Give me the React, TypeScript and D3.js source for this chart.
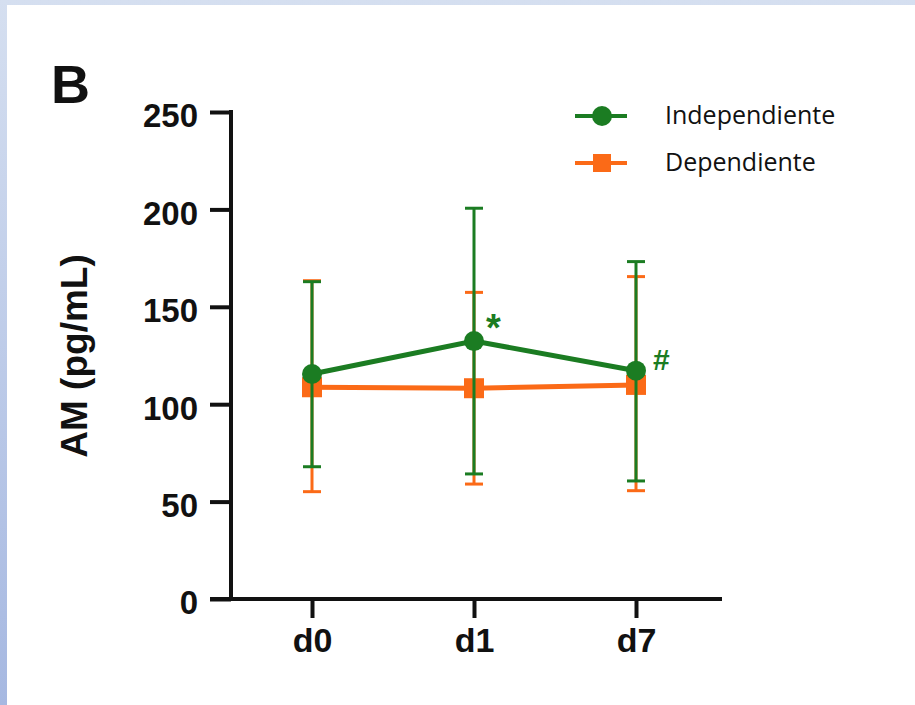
import React, { useEffect, useRef } from "react";
import * as d3 from "d3";

// chart data
const days = ["d0", "d1", "d7"];
const indepMean = [115.5, 132.4, 117.2];
const indepUpper = [162.9, 200.6, 173.2];
const indepLower = [67.9, 64.2, 60.6];
const depMean = [108.7, 108.2, 109.9];
const depUpper = [163.4, 157.4, 165.5];
const depLower = [55.1, 59.0, 55.6];
const yTicks = [0, 50, 100, 150, 200, 250];
const seriesNames = ["Independiente", "Dependiente"];
const marks = ["", "*", "#"];

const GREEN = "#1b7c22";
const ORANGE = "#fb6a17";

export default function App() {
    const ref = useRef<SVGSVGElement>(null);

    useEffect(() => {
        const svg = d3.select(ref.current);
        svg.selectAll("*").remove();

        const W = 915, H = 705;

        // frame background
        const defs = svg.append("defs");
        const grad = defs.append("linearGradient")
            .attr("id", "frame")
            .attr("x1", 0).attr("y1", 0).attr("x2", 0).attr("y2", 1);
        grad.append("stop").attr("offset", "0%").attr("stop-color", "#d5dff0");
        grad.append("stop").attr("offset", "100%").attr("stop-color", "#a6b8e1");
        svg.append("rect").attr("width", W).attr("height", H).attr("fill", "url(#frame)");
        svg.append("rect").attr("x", 7).attr("y", 5).attr("width", W - 7).attr("height", H - 5).attr("fill", "#fff");

        const x = d3.scalePoint<string>()
            .domain(days)
            .range([231, 717])
            .padding(0.5);

        const y = d3.scaleLinear()
            .domain([0, 250])
            .range([599, 112]);

        const boldFont = "'Liberation Sans', Arial, sans-serif";

        // y axis
        const yAxis = svg.append("g")
            .attr("transform", "translate(231,0)")
            .call(d3.axisLeft(y).tickValues(yTicks).tickSize(21).tickSizeOuter(0).tickPadding(12));
        yAxis.select(".domain").remove();
        yAxis.selectAll(".tick line").attr("stroke", "#111").attr("stroke-width", 4);
        yAxis.selectAll(".tick text")
            .attr("font-family", boldFont)
            .attr("font-weight", "bold")
            .attr("font-size", 33)
            .attr("fill", "#111")
            .attr("dy", "0.45em");

        // x axis
        const xAxis = svg.append("g")
            .attr("transform", "translate(0,599)")
            .call(d3.axisBottom(x).tickSize(19).tickSizeOuter(0).tickPadding(10));
        xAxis.select(".domain").remove();
        xAxis.selectAll(".tick line").attr("stroke", "#111").attr("stroke-width", 4);
        xAxis.selectAll(".tick text")
            .attr("font-family", boldFont)
            .attr("font-weight", "bold")
            .attr("font-size", 34)
            .attr("fill", "#111");

        // axis lines
        svg.append("line")
            .attr("x1", 231).attr("x2", 231).attr("y1", 110).attr("y2", 601)
            .attr("stroke", "#111").attr("stroke-width", 4);
        svg.append("line")
            .attr("x1", 210).attr("x2", 722).attr("y1", 599).attr("y2", 599)
            .attr("stroke", "#111").attr("stroke-width", 4);

        // axis title
        svg.append("text")
            .attr("transform", "translate(87,356) rotate(-90)")
            .attr("text-anchor", "middle")
            .attr("font-family", boldFont)
            .attr("font-weight", "bold")
            .attr("font-size", 37)
            .attr("fill", "#111")
            .text("AM (pg/mL)");

        // panel letter
        svg.append("text")
            .attr("x", 51).attr("y", 103)
            .attr("font-family", boldFont)
            .attr("font-weight", "bold")
            .attr("font-size", 54)
            .attr("fill", "#111")
            .text("B");

        const capW = 9;
        const drawErrors = (upper: number[], lower: number[], color: string) => {
            const g = svg.append("g").attr("stroke", color).attr("stroke-width", 3);
            days.forEach((d, i) => {
                const cx = x(d)!;
                g.append("line").attr("x1", cx).attr("x2", cx).attr("y1", y(upper[i])).attr("y2", y(lower[i]));
                g.append("line").attr("x1", cx - capW).attr("x2", cx + capW).attr("y1", y(upper[i])).attr("y2", y(upper[i]));
                g.append("line").attr("x1", cx - capW).attr("x2", cx + capW).attr("y1", y(lower[i])).attr("y2", y(lower[i]));
            });
        };

        const line = d3.line<number>()
            .x((d, i) => x(days[i])!)
            .y(d => y(d));

        // Dependiente (orange squares)
        drawErrors(depUpper, depLower, ORANGE);
        svg.append("path")
            .datum(depMean)
            .attr("d", line)
            .attr("fill", "none")
            .attr("stroke", ORANGE)
            .attr("stroke-width", 5);
        svg.selectAll(".sq")
            .data(depMean)
            .enter()
            .append("rect")
            .attr("x", (d, i) => x(days[i])! - 10)
            .attr("y", d => y(d) - 10)
            .attr("width", 20)
            .attr("height", 20)
            .attr("fill", ORANGE);

        // Independiente (green circles)
        drawErrors(indepUpper, indepLower, GREEN);
        svg.append("path")
            .datum(indepMean)
            .attr("d", line)
            .attr("fill", "none")
            .attr("stroke", GREEN)
            .attr("stroke-width", 5);
        svg.selectAll(".dot")
            .data(indepMean)
            .enter()
            .append("circle")
            .attr("cx", (d, i) => x(days[i])!)
            .attr("cy", d => y(d))
            .attr("r", 10)
            .attr("fill", GREEN);

        // significance marks
        svg.selectAll(".mark")
            .data(marks)
            .enter()
            .append("text")
            .attr("x", (d, i) => x(days[i])! + (d === "*" ? 12 : 17))
            .attr("y", (d, i) => y(indepMean[i]) + (d === "*" ? 0 : -1))
            .attr("font-family", boldFont)
            .attr("font-weight", "bold")
            .attr("font-size", (d) => d === "*" ? 38 : 30)
            .attr("fill", GREEN)
            .text(d => d);

        // legend
        const legend = svg.append("g");
        const legendY = [116, 163];
        const colors = [GREEN, ORANGE];
        seriesNames.forEach((name, i) => {
            const ly = legendY[i];
            legend.append("line")
                .attr("x1", 575).attr("x2", 627).attr("y1", ly).attr("y2", ly)
                .attr("stroke", colors[i]).attr("stroke-width", 4);
            if (i === 0) {
                legend.append("circle").attr("cx", 602).attr("cy", ly).attr("r", 10).attr("fill", colors[i]);
            } else {
                legend.append("rect").attr("x", 593).attr("y", ly - 9).attr("width", 18).attr("height", 18).attr("fill", colors[i]);
            }
            legend.append("text")
                .attr("x", 665).attr("y", ly + 8)
                .attr("font-family", "'Open Sans', sans-serif")
                .attr("font-size", 25)
                .attr("fill", "#111")
                .text(name);
        });
    }, []);

    return (
        <svg ref={ref} width={915} height={705}
            style={{ position: "absolute", left: 0, top: 0, display: "block" }} />
    );
}
